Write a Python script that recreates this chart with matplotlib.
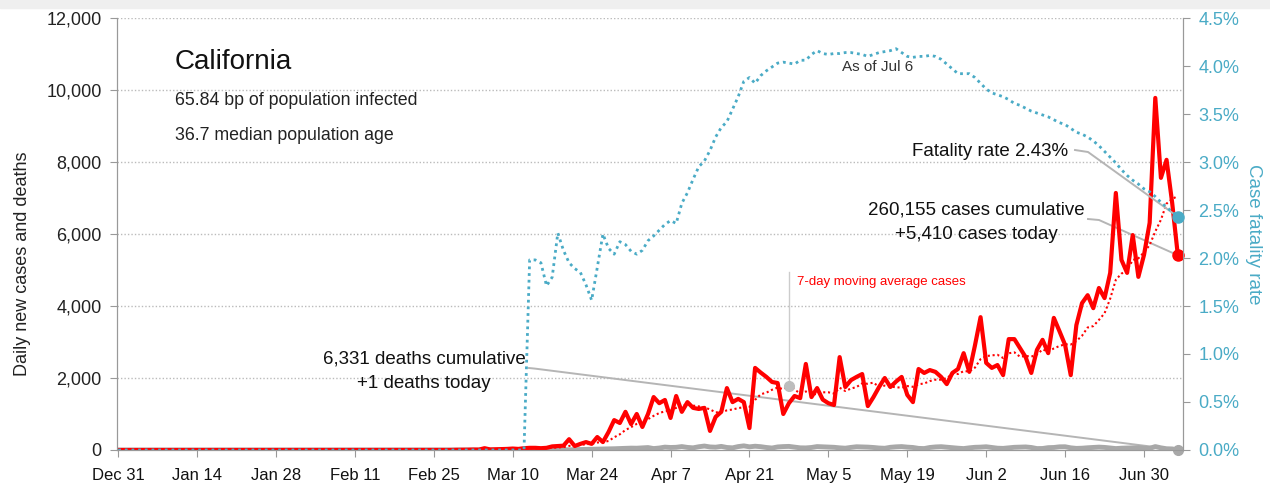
import matplotlib
matplotlib.use("Agg")
import matplotlib.pyplot as plt
from matplotlib.patches import Rectangle
import pandas as pd

# daily values, Dec 31 2019 .. Jul 6 2020
cases_dec = [0]
cases_jan = [0] * 25 + [2, 0, 0, 0, 0, 1]
cases_feb = [0, 1, 0, 0, 0, 0, 0, 0, 0, 1, 0, 0, 0, 0, 0, 0, 0, 0, 0, 1,
             2, 0, 0, 0, 1, 2, 3, 1, 5]
cases_mar = [5, 8, 12, 10, 50, 15, 20, 25, 30, 40, 30, 50, 60, 60, 50, 60,
             100, 110, 120, 300, 110, 170, 220, 170, 360, 220, 500, 830, 750,
             1060, 720]
cases_apr = [1000, 640, 1000, 1470, 1300, 1390, 890, 1500, 1060, 1330, 1170,
             1140, 1170, 530, 920, 1060, 1720, 1330, 1420, 1330, 610, 2280,
             2150, 2030, 1890, 1860, 1000, 1300, 1500, 1440]
cases_may = [2390, 1470, 1720, 1400, 1300, 1250, 2580, 1750, 1940, 2030, 2110,
             1220, 1470, 1750, 2000, 1750, 1900, 2030, 1530, 1330, 2250, 2140,
             2220, 2170, 2030, 1830, 2140, 2250, 2690, 2170, 2900]
cases_jun = [3690, 2420, 2280, 2360, 2080, 3080, 3080, 2830, 2580, 2140, 2780,
             3060, 2690, 3670, 3300, 2920, 2080, 3470, 4080, 4300, 3940, 4500,
             4220, 4920, 7140, 5280, 4920, 5970, 4810, 5420]
cases_jul = [6310, 9780, 7560, 8060, 6860, 5410]

deaths_dec = [0]
deaths_jan = [0] * 31
deaths_feb = [0] * 29
deaths_mar = [0, 0, 0, 1, 0, 0, 1, 0, 1, 2, 1, 3, 2, 2, 5, 3, 6, 4, 8, 6, 10,
              12, 17, 20, 25, 28, 30, 35, 40, 45, 52]
deaths_apr = [50, 60, 68, 40, 55, 80, 70, 75, 95, 72, 60, 90, 110, 85, 78, 100,
              70, 60, 95, 115, 88, 105, 92, 70, 55, 85, 95, 100, 80, 60]
deaths_may = [58, 70, 95, 88, 80, 75, 60, 50, 72, 90, 85, 80, 70, 55, 48, 75,
              88, 95, 80, 70, 45, 40, 70, 85, 92, 78, 65, 50, 40, 60, 75]
deaths_jun = [80, 90, 70, 50, 45, 60, 75, 80, 85, 70, 40, 42, 65, 70, 88, 90,
              60, 45, 50, 62, 70, 80, 72, 55, 40, 50, 55, 60, 65, 50]
deaths_jul = [45, 95, 60, 35, 30, 1]

# case fatality rate, percent
cfr_dec = [0]
cfr_jan = [0] * 31
cfr_feb = [0] * 29
cfr_mar = [0] * 12 + [1.98, 1.98, 1.95, 1.71, 1.80, 2.26, 2.08, 1.95, 1.89,
                      1.85, 1.72, 1.56, 1.90, 2.25, 2.10, 2.04, 2.17, 2.14, 2.07]
cfr_apr = [2.04, 2.08, 2.18, 2.23, 2.29, 2.35, 2.39, 2.36, 2.57, 2.68, 2.82,
           2.95, 3.01, 3.12, 3.26, 3.36, 3.42, 3.55, 3.68, 3.84, 3.88, 3.82,
           3.90, 3.95, 3.99, 4.03, 4.04, 4.03, 4.02, 4.06]
cfr_may = [4.06, 4.12, 4.16, 4.13, 4.12, 4.13, 4.13, 4.14, 4.14, 4.13, 4.12,
           4.10, 4.12, 4.14, 4.15, 4.16, 4.18, 4.14, 4.10, 4.09, 4.10, 4.10,
           4.11, 4.10, 4.07, 4.02, 3.97, 3.92, 3.92, 3.92, 3.88]
cfr_jun = [3.82, 3.76, 3.72, 3.70, 3.68, 3.65, 3.61, 3.59, 3.56, 3.53, 3.51,
           3.49, 3.47, 3.44, 3.41, 3.39, 3.35, 3.31, 3.29, 3.26, 3.22, 3.17,
           3.11, 3.05, 2.99, 2.92, 2.86, 2.81, 2.77, 2.72]
cfr_jul = [2.69, 2.64, 2.58, 2.53, 2.48, 2.43]

cases = cases_dec + cases_jan + cases_feb + cases_mar + cases_apr + cases_may + cases_jun + cases_jul
deaths = deaths_dec + deaths_jan + deaths_feb + deaths_mar + deaths_apr + deaths_may + deaths_jun + deaths_jul
cfr = cfr_dec + cfr_jan + cfr_feb + cfr_mar + cfr_apr + cfr_may + cfr_jun + cfr_jul

left_ticks = [0, 2000, 4000, 6000, 8000, 10000, 12000]
right_ticks = [0, 0.5, 1.0, 1.5, 2.0, 2.5, 3.0, 3.5, 4.0, 4.5]

RED = "#ff0000"
BLUE = "#4aabc6"
GRAY = "#a8a8a8"
LEAD = "#b5b5b5"

plt.rcParams["font.family"] = ["Liberation Sans", "DejaVu Sans"]

dates = pd.date_range("2019-12-31", periods=len(cases), freq="D")
ma7 = pd.Series(cases).rolling(7, min_periods=1).mean()
xticks = pd.date_range("2019-12-31", "2020-06-30", freq="14D")

fig = plt.figure(figsize=(12.7, 4.91), dpi=100)
fig.patches.append(Rectangle((0, 1 - 8 / 491), 1, 8 / 491, transform=fig.transFigure,
                             color="#efefef", zorder=0))
ax = fig.add_axes([117 / 1270, 41 / 491, 1066 / 1270, 432 / 491])
ax2 = ax.twinx()

ax.set_xlim(dates[0] - pd.Timedelta(hours=5), dates[-1] + pd.Timedelta(hours=22))
ax.set_ylim(0, 12000)
ax2.set_ylim(0, 4.5)

for v in left_ticks[1:]:
    ax.axhline(v, color="#bbbbbb", lw=1, ls=(0, (1, 1.5)), zorder=1)

ax.plot(dates, deaths, color=GRAY, lw=3.5, zorder=3, solid_joinstyle="round")
ax.plot(dates, ma7, color=RED, lw=1.5, ls=(0, (1, 1.3)), zorder=4)
ax.plot(dates, cases, color=RED, lw=3, zorder=5, solid_joinstyle="round")
ax.plot(dates[-1], cases[-1], "o", color=RED, ms=8, zorder=6, clip_on=False)
ax.plot(dates[-1], deaths[-1], "o", color=GRAY, ms=7, zorder=6, clip_on=False)
ax.plot(dates[119], ma7[119], "o", color="#bdbdbd", ms=7, zorder=6)

ax2.plot(dates, cfr, color=BLUE, lw=2, ls=(0, (1, 1.4)), zorder=3)
ax2.plot(dates[-1], cfr[-1], "o", color=BLUE, ms=8, zorder=6, clip_on=False)


def frac_to_data(a, fx, fy):
    return a.transData.inverted().transform(a.transAxes.transform((fx, fy)))


def leader(a, p1, p2, end):
    q1 = frac_to_data(a, *p1)
    q2 = frac_to_data(a, *p2)
    endx = matplotlib.dates.date2num(end[0])
    a.plot([q1[0], q2[0], endx], [q1[1], q2[1], end[1]], color=LEAD, lw=1.4, zorder=2)


leader(ax2, (0.8987, 0.6944), (0.9109, 0.6898), (dates[-1], cfr[-1]))
leader(ax, (0.9109, 0.5347), (0.9212, 0.5324), (dates[-1], cases[-1]))
leader(ax, (0.3865, 0.1898), (0.3921, 0.1884), (dates[-1], deaths[-1]))

top = frac_to_data(ax, 0, 0.412)[1]
ax.plot([dates[119], dates[119]], [ma7[119], top], color="#cccccc", lw=1, zorder=2)

# texts
ax.text(0.054, 0.898, "California", transform=ax.transAxes, fontsize=20,
        ha="left", va="center", color="#111111")
ax.text(0.054, 0.808, "65.84 bp of population infected", transform=ax.transAxes,
        fontsize=12.8, ha="left", va="center", color="#222222")
ax.text(0.054, 0.729, "36.7 median population age", transform=ax.transAxes,
        fontsize=12.8, ha="left", va="center", color="#222222")
ax.text(0.714, 0.887, "As of Jul 6", transform=ax.transAxes, fontsize=11,
        ha="center", va="center", color="#333333")
ax.text(0.892, 0.690, "Fatality rate 2.43%", transform=ax.transAxes, fontsize=13.5,
        ha="right", va="center", color="#111111")
ax.text(0.806, 0.527, "260,155 cases cumulative\n+5,410 cases today",
        transform=ax.transAxes, fontsize=13.5, ha="center", va="center",
        color="#111111", linespacing=1.6)
ax.text(0.288, 0.183, "6,331 deaths cumulative\n+1 deaths today",
        transform=ax.transAxes, fontsize=13.5, ha="center", va="center",
        color="#111111", linespacing=1.6)
ax.text(0.638, 0.389, "7-day moving average cases", transform=ax.transAxes,
        fontsize=9.5, ha="left", va="center", color=RED)

# axes styling
for a in (ax, ax2):
    a.spines["top"].set_visible(False)
    a.spines["left"].set_color("#999999")
    a.spines["right"].set_color("#999999")
    a.spines["bottom"].set_color("#999999")

ax.set_yticks(left_ticks)
ax.set_yticklabels([f"{v:,}" for v in left_ticks])
ax.tick_params(axis="y", length=5, color="#999999", labelsize=13, labelcolor="#222222", pad=6)
ax2.set_yticks(right_ticks)
ax2.set_yticklabels([f"{v:.1f}%" for v in right_ticks])
ax2.tick_params(axis="y", length=5, color="#999999", labelsize=13, labelcolor=BLUE, pad=6)

ax.set_xticks(xticks)
ax.set_xticklabels([d.strftime("%b ") + str(d.day) for d in xticks])
ax.tick_params(axis="x", length=5, color="#999999", labelsize=12, labelcolor="#111111", pad=8)

ax.set_ylabel("Daily new cases and deaths", fontsize=13, color="#222222")
ax.yaxis.set_label_coords(-0.081, 0.43)
ax2.set_ylabel("Case fatality rate", fontsize=13.5, color=BLUE, rotation=270)
ax2.yaxis.set_label_coords(1.0745, 0.50)

ax.set_zorder(1)
ax2.set_zorder(2)
ax.patch.set_visible(False)

fig.savefig("out.png", dpi=100)
